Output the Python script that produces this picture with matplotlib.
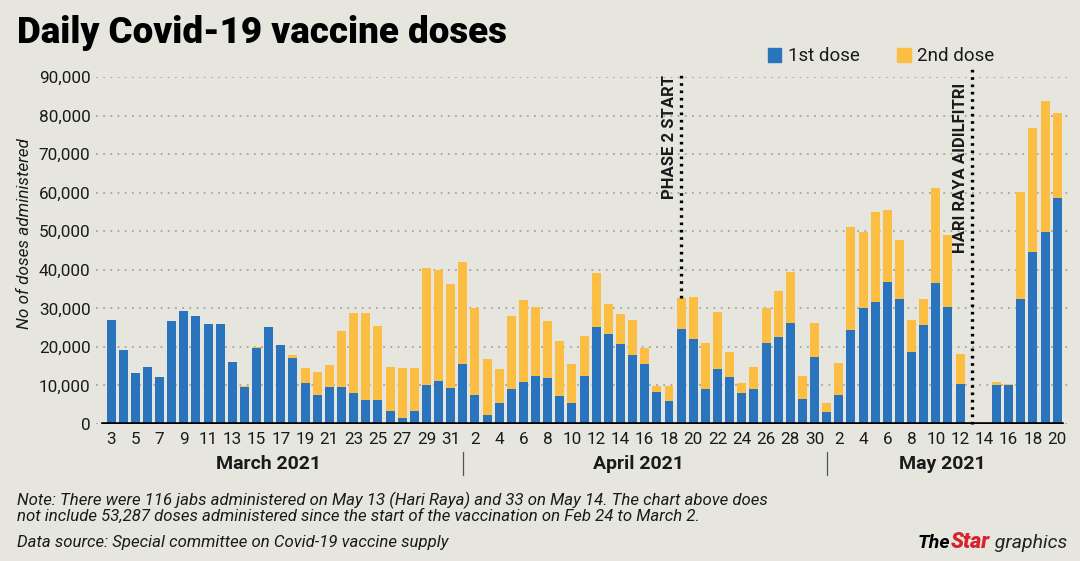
import matplotlib.pyplot as plt
from matplotlib.patches import Patch
import matplotlib.transforms as mtransforms

plt.rcParams['font.family'] = ['Roboto', 'DejaVu Sans']

# days shown: 3-31 March, 1-30 April, 1-20 May
march_days = list(range(3, 32))
april_days = list(range(1, 31))
may_days = list(range(1, 21))
days = march_days + april_days + may_days

first_dose = [
    # March 3-31
    27000, 19200, 13300, 14700, 12100, 26600, 29400, 28100, 25900, 25900,
    16200, 9700, 19800, 25100, 20500, 17100, 10600, 7500, 9500, 9500,
    8100, 6200, 6200, 3400, 1500, 3400, 10100, 11200, 9300,
    # April 1-30
    15500, 7500, 2300, 5500, 9100, 10800, 12500, 11900, 7300, 5500,
    12500, 25100, 23400, 20800, 17900, 15500, 8400, 6000, 24600, 22000,
    9000, 14200, 12100, 8000, 9000, 21100, 22500, 26300, 6400, 17300,
    # May 1-20
    3000, 7600, 24500, 30200, 31700, 36900, 32300, 18600, 25800, 36500,
    30400, 10300, 116, 33, 10200, 10000, 32300, 44500, 49700, 58600,
]
second_dose = [
    # March 3-31
    0, 0, 0, 0, 0, 0, 0, 0, 0, 0,
    0, 200, 200, 0, 0, 800, 3900, 6100, 5800, 14700,
    20800, 22700, 19300, 11300, 13000, 11100, 30300, 28800, 27000,
    # April 1-30
    26400, 22700, 14500, 8700, 19000, 21400, 17800, 14700, 14100, 10000,
    10400, 14000, 7700, 7800, 9100, 4200, 1500, 3900, 8000, 10900,
    12000, 14800, 6600, 2600, 5700, 8900, 11900, 13000, 6100, 9000,
    # May 1-20
    2400, 8100, 26500, 19500, 23300, 18700, 15300, 8300, 6700, 24800,
    18500, 7900, 0, 0, 700, 400, 28000, 32200, 34100, 22000,
]

month_labels = ['March 2021', 'April 2021', 'May 2021']
events = [('PHASE 2 START', 'April', 19), ('HARI RAYA AIDILFITRI', 'May', 13)]

BLUE = '#2a74be'
YELLOW = '#fbbd42'
BG = '#e6e6df'
TXT = '#1a1a1a'

fig = plt.figure(figsize=(10.8, 5.61), dpi=100, facecolor=BG)
ax = fig.add_axes([96 / 1080, 1 - 424 / 561, 974 / 1080, 347 / 561])
ax.set_facecolor(BG)

x = list(range(len(days)))
totals = [a + b for a, b in zip(first_dose, second_dose)]
ax.bar(x, first_dose, width=0.74, color=BLUE, zorder=3)
ax.bar(x, second_dose, width=0.74, bottom=first_dose, color=YELLOW, zorder=3)

ax.set_xlim(-1.24, len(days) + 0.06)
ax.set_ylim(0, 90000)

for s in ax.spines.values():
    s.set_visible(False)
ax.axhline(0, xmin=0.007, xmax=0.992, color='black', lw=2.6, zorder=4)

yt = list(range(0, 90001, 10000))
ax.set_yticks(yt)
ax.set_yticklabels([f'{v:,}' for v in yt], fontsize=12.3, color=TXT)
ax.yaxis.grid(True, linestyle=(0, (1.2, 3.5)), color='#9a9a9a', lw=1.1, zorder=0)
ax.set_xticks(x[::2])
ax.set_xticklabels([str(d) for d in days[::2]], fontsize=12.3, color=TXT)
ax.tick_params(length=0, axis='y', pad=4)
ax.tick_params(length=0, axis='x', pad=6)

ax.set_ylabel('No of doses administered', fontsize=12.3, style='italic',
              color=TXT)
ax.yaxis.set_label_coords(-0.066, 0.55)

# month labels and separators
n_mar, n_apr = len(march_days), len(april_days)
trans = mtransforms.blended_transform_factory(ax.transData, ax.transAxes)
month_centers = [13, n_mar + (n_apr - 1) / 2, n_mar + n_apr + (len(may_days) - 1) / 2]
for lab, cx in zip(month_labels, month_centers):
    ax.text(cx, -0.115, lab, transform=trans, ha='center', va='center',
            fontsize=14, fontweight='bold', color=TXT)
for sx in [n_mar, n_mar + n_apr]:
    ax.plot([sx, sx], [-0.08, -0.148], transform=trans, color='#555555',
            lw=0.9, clip_on=False)

# event lines
month_offset = {'March': -3, 'April': n_mar - 1, 'May': n_mar + n_apr - 1}
for i, (lab, mon, d) in enumerate(events):
    ex = month_offset[mon] + d
    top = 91500 if i == 0 else 92200
    ax.plot([ex, ex], [totals[ex], top], color='black', lw=2.4,
            linestyle=(0, (0.8, 1.4)), clip_on=False, zorder=5)
    ax.annotate(lab, xy=(ex, 90600 if i == 0 else 88400), xytext=(-3, 0),
                textcoords='offset points', rotation=90, ha='right', va='top',
                fontsize=12, fontweight='bold', color=TXT,
                annotation_clip=False)

handles = [Patch(color=BLUE), Patch(color=YELLOW)]
fig.legend(handles, ['1st dose', '2nd dose'], loc='upper right',
           bbox_to_anchor=(1004 / 1080, 1 - 38 / 561), ncol=2, frameon=False,
           fontsize=13.5, handlelength=0.72, handleheight=0.72,
           handletextpad=0.35, columnspacing=2.0, borderpad=0,
           labelcolor=TXT)

fig.text(17 / 1080, 1 - 33 / 561, 'Daily Covid-19 vaccine doses',
         fontsize=26.5, fontweight='black', va='center', color='black')

fig.text(17 / 1080, 1 - 508 / 561,
         'Note: There were 116 jabs administered on May 13 (Hari Raya) and 33 on May 14. The chart above does\n'
         'not include 53,287 doses administered since the start of the vaccination on Feb 24 to March 2.',
         fontsize=12.1, style='italic', color=TXT, va='center', linespacing=0.95)
fig.text(17 / 1080, 1 - 542 / 561,
         'Data source: Special committee on Covid-19 vaccine supply',
         fontsize=12.1, style='italic', color=TXT, va='center')

# logo
g = fig.text(1067 / 1080, 1 - 548 / 561, ' graphics', fontsize=14,
             style='italic', color='#222222', ha='right', va='baseline')
st = fig.text(0, 0, 'Star', fontsize=15.5, style='italic', fontweight='black',
              color='#d7232d', ha='right', va='baseline')
th = fig.text(0, 0, 'The', fontsize=14, style='italic', fontweight='bold',
              color='black', ha='right', va='baseline')
fig.canvas.draw()
r = fig.canvas.get_renderer()
gb = g.get_window_extent(r)
st.set_position((gb.x0 / fig.bbox.width, 1 - 548 / 561))
fig.canvas.draw()
sb = st.get_window_extent(r)
th.set_position((sb.x0 / fig.bbox.width, 1 - 548 / 561))

fig.savefig('out.png', dpi=100, facecolor=BG)
